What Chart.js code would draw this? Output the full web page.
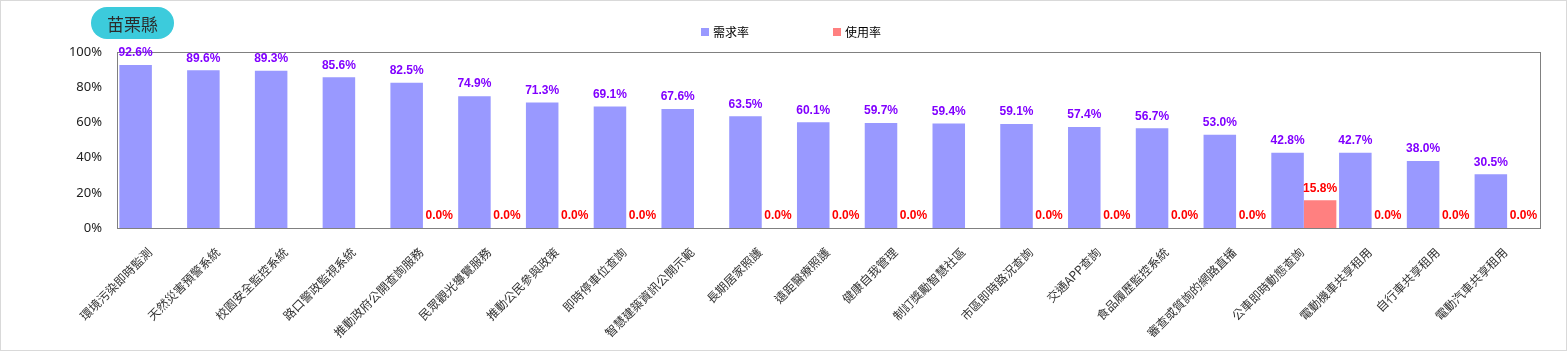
<!DOCTYPE html>
<html><head><meta charset="utf-8">
<script src="https://cdn.jsdelivr.net/npm/chart.js@4.4.1/dist/chart.umd.min.js"></script>
<style>
html,body{margin:0;padding:0;background:#fff;}
#wrap{position:relative;width:1567px;height:352px;}
#badge{position:absolute;left:91px;top:7px;width:83px;height:32px;border-radius:16px;background:#3ccbdc;color:#2b2b2b;font:17px "Noto Sans CJK TC";display:flex;align-items:center;justify-content:center;line-height:1;}
canvas{position:absolute;left:0;top:0;}
</style></head><body>
<div id="wrap"><canvas id="c" width="1567" height="352"></canvas><div id="badge">苗栗縣</div></div>
<script>
const categories = ['環境污染即時監測','天然災害預警系統','校園安全監控系統','路口警政監視系統','推動政府公開查詢服務','民眾觀光導覽服務','推動公民參與政策','即時停車位查詢','智慧建築資訊公開示範','長期居家照護','遠距醫療照護','健康自我管理','制訂獎勵智慧社區','市區即時路況查詢','交通APP查詢','食品履歷監控系統','審查或質詢的網路直播','公車即時動態查詢','電動機車共享租用','自行車共享租用','電動汽車共享租用'];
const demandRate = [92.6,89.6,89.3,85.6,82.5,74.9,71.3,69.1,67.6,63.5,60.1,59.7,59.4,59.1,57.4,56.7,53.0,42.8,42.7,38.0,30.5];
const usageRate = [null,null,null,null,0,0,0,0,null,0,0,0,null,0,0,0,0,15.8,0,0,0];
const seriesNames = ['需求率','使用率'];
const yTicks = [0,20,40,60,80,100];

const frame = {
  id:'frame',
  beforeDraw(chart){
    const ctx=chart.ctx; ctx.save();
    ctx.strokeStyle='#d9d9d9'; ctx.lineWidth=1;
    ctx.strokeRect(0.5,0.5,1566,350);
    ctx.restore();
  },
  beforeDatasetsDraw(chart){
    const xs=chart.scales.x, ys=chart.scales.y, ctx=chart.ctx; ctx.save();
    const l=Math.round(xs.left)-0.5, r=Math.round(xs.right)-0.5;
    const t=Math.round(ys.top)+0.5, b=Math.round(ys.bottom)+0.5;
    ctx.strokeStyle='#808080'; ctx.lineWidth=1;
    ctx.strokeRect(l,t,r-l,b-t);
    ctx.restore();
  }
};
const valueLabels = {
  id:'valueLabels',
  afterDatasetsDraw(chart){
    const ctx=chart.ctx; ctx.save();
    ctx.font='bold 12px "Liberation Sans", Arial, sans-serif';
    ctx.textAlign='center'; ctx.textBaseline='middle';
    chart.data.datasets.forEach((ds,di)=>{
      const meta=chart.getDatasetMeta(di);
      ctx.fillStyle=ds.labelColor;
      meta.data.forEach((el,i)=>{
        const v=ds.data[i];
        if(v===null||v===undefined) return;
        ctx.fillText(v.toFixed(1)+'%', el.x, el.y-12);
      });
    });
    ctx.restore();
  }
};
const customLegend = {
  id:'customLegend',
  afterDraw(chart){
    const ctx=chart.ctx; ctx.save();
    ctx.font='12px "Noto Sans CJK TC"'; ctx.textBaseline='middle'; ctx.textAlign='left';
    let x=701; const y=32;
    chart.data.datasets.forEach(ds=>{
      ctx.fillStyle=ds.backgroundColor;
      ctx.fillRect(x,y-4,8,8);
      ctx.fillStyle='#000';
      ctx.fillText(ds.label,x+12,y);
      x+=132;
    });
    ctx.restore();
  }
};

new Chart(document.getElementById('c'),{
  type:'bar',
  data:{
    labels:categories,
    datasets:[
      {label:seriesNames[0],data:demandRate,backgroundColor:'#9999ff',labelColor:'#8000ff',categoryPercentage:0.96,barPercentage:1},
      {label:seriesNames[1],data:usageRate,backgroundColor:'#ff8080',labelColor:'#ff0000',categoryPercentage:0.96,barPercentage:1}
    ]
  },
  options:{
    responsive:false,animation:false,devicePixelRatio:1,
    layout:{padding:{top:52,right:26,bottom:0,left:0}},
    plugins:{legend:{display:false},tooltip:{enabled:false}},
    scales:{
      x:{
        grid:{display:false,drawTicks:false},
        border:{display:false},
        ticks:{autoSkip:false,minRotation:45,maxRotation:45,padding:17,labelOffset:-2,color:'#333',font:{family:'"Noto Sans CJK TC"',size:12}},
        afterFit(s){s.height=124;}
      },
      y:{
        min:0,max:100,
        afterBuildTicks(s){s.ticks=yTicks.map(v=>({value:v}));},
        grid:{display:false,drawTicks:false},
        border:{display:false},
        ticks:{padding:16,color:'#222',font:{family:'"Noto Sans"',size:13},callback:v=>v+'%'},
        afterFit(s){s.width=118;}
      }
    }
  },
  plugins:[frame,valueLabels,customLegend]
});
</script>
</body></html>
